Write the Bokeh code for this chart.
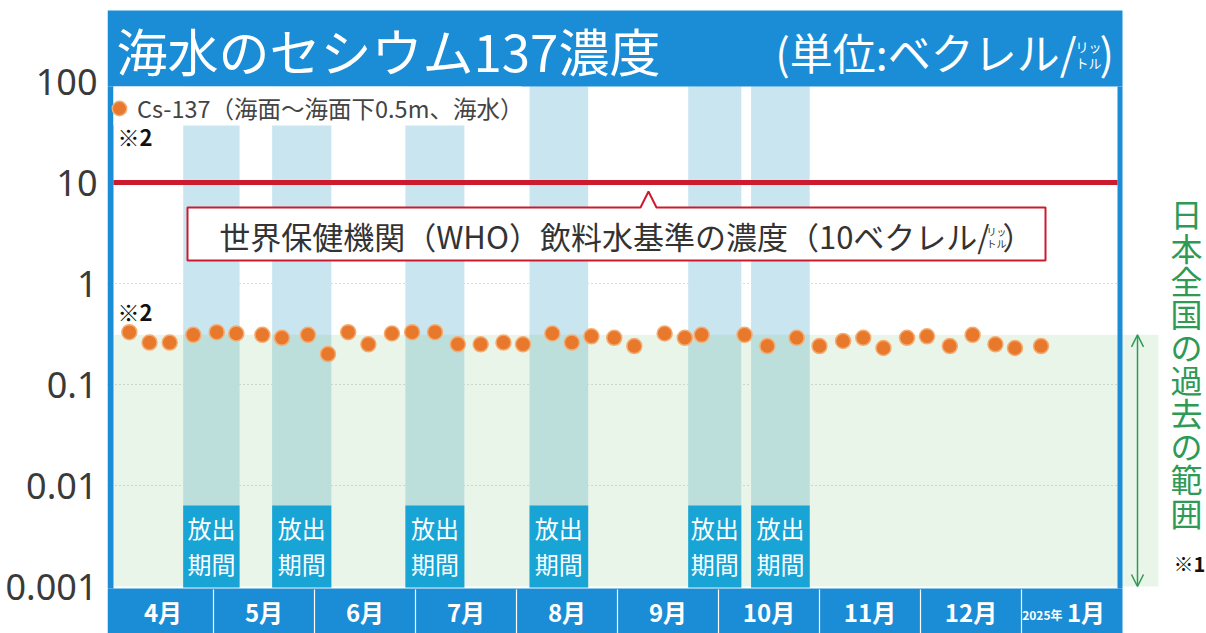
import calendar
from bokeh.plotting import figure
from bokeh.models import (Range1d, FixedTicker, CustomJSTickFormatter, Label, Legend,
                          LegendItem, ColumnDataSource, Arrow, OpenHead)
from bokeh.core.properties import value
from bokeh.embed import file_html
from bokeh.resources import INLINE

# ---------------- data ----------------
sample_dates = ["2024-04-06", "2024-04-12", "2024-04-18", "2024-04-25", "2024-05-02",
                "2024-05-08", "2024-05-16", "2024-05-22", "2024-05-30", "2024-06-05",
                "2024-06-11", "2024-06-17", "2024-06-24", "2024-06-30", "2024-07-07",
                "2024-07-14", "2024-07-21", "2024-07-28", "2024-08-03", "2024-08-12",
                "2024-08-18", "2024-08-24", "2024-08-31", "2024-09-06", "2024-09-15",
                "2024-09-21", "2024-09-26", "2024-10-09", "2024-10-16", "2024-10-25",
                "2024-11-01", "2024-11-08", "2024-11-14", "2024-11-20", "2024-11-27",
                "2024-12-03", "2024-12-10", "2024-12-17", "2024-12-24", "2024-12-30",
                "2025-01-07"]
cs137 = [0.33, 0.26, 0.26, 0.31, 0.33, 0.32, 0.31, 0.29, 0.31, 0.20,
         0.33, 0.25, 0.32, 0.33, 0.33, 0.25, 0.25, 0.26, 0.25, 0.32,
         0.26, 0.30, 0.29, 0.24, 0.32, 0.29, 0.31, 0.31, 0.24, 0.29,
         0.24, 0.27, 0.29, 0.23, 0.29, 0.30, 0.24, 0.31, 0.25, 0.23,
         0.24]
release_start = ["2024-04-22", "2024-05-19", "2024-06-28", "2024-08-05", "2024-09-22", "2024-10-11"]
release_end = ["2024-05-09", "2024-06-06", "2024-07-16", "2024-08-23", "2024-10-08", "2024-10-29"]
past_low, past_high = 0.001, 0.31
who_limit = 10
month_labels = ["4月", "5月", "6月", "7月", "8月", "9月", "10月", "11月", "12月", "1月"]
year_prefix = "2025年"
y_ticks = [0.001, 0.01, 0.1, 1, 10, 100]
y_tick_labels = ["0.001", "0.01", "0.1", "1", "10", "100"]
grid_ticks = [0.01, 0.1, 1]
release_label = ["放出", "期間"]
series_label = "Cs-137（海面～海面下0.5m、海水）"
title_text = "海水のセシウム137濃度"
unit_text = "(単位:ベクレル/"
who_text = "世界保健機関（WHO）飲料水基準の濃度（10ベクレル/"
range_text = "日本全国の過去の範囲"


def month_pos(s):
    y, m, d = map(int, s.split("-"))
    idx = (y - 2024) * 12 + (m - 4)
    nd = calendar.monthrange(y, m)[1]
    return idx + (d - 1) / nd


# ---------------- layout helpers (page px -> data) ----------------
X0, MONTH_W, Y_ONE, DEC_H = 112, 101, 283, 101


def dx(px):
    return (px - X0) / MONTH_W


def dy(py):
    return 10 ** ((Y_ONE - py) / DEC_H)


BLUE = "#1b8dd6"
CYAN = "#18a5d6"
COL = "#c9e5ef"
RED = "#cc1a2f"
GREEN = "#2e9a55"
JP = "Noto Sans CJK JP"

p = figure(width=1206, height=633, x_range=Range1d(dx(107), dx(1206)),
           y_range=Range1d(dy(633), dy(0)), y_axis_type="log", x_axis_location=None,
           toolbar_location=None, output_backend="svg", min_border_left=107,
           min_border_right=0, min_border_top=0, min_border_bottom=0, title=None,
           background_fill_color="white", border_fill_color="white")
p.outline_line_color = None
p.xgrid.visible = False
p.ygrid.ticker = FixedTicker(ticks=grid_ticks, minor_ticks=[])
p.ygrid.grid_line_color = "#b8b8b8"
p.ygrid.grid_line_dash = "1 3"
p.ygrid.grid_line_width = 1

ax = p.yaxis[0]
ax.ticker = FixedTicker(ticks=y_ticks, minor_ticks=[])
ax.formatter = CustomJSTickFormatter(args=dict(tvals=y_ticks, tlabels=y_tick_labels), code="""
let best = 0, bd = Infinity;
for (let i = 0; i < tvals.length; i++) {
  const d = Math.abs(Math.log10(tvals[i]) - Math.log10(tick));
  if (d < bd) { bd = d; best = i; }
}
return tlabels[best];
""")
ax.axis_line_color = None
ax.major_tick_line_color = None
ax.minor_tick_line_color = None
ax.major_tick_out = 0
ax.major_tick_in = 0
ax.minor_tick_out = 0
ax.minor_tick_in = 0
ax.major_label_standoff = 10
ax.major_label_text_font = "Noto Sans"
ax.major_label_text_font_size = "36px"
ax.major_label_text_color = "#3a3a3a"

# white area right of the frame (hides grid)
p.quad(left=[dx(1122)], right=[dx(1206)], bottom=[dy(633)], top=[dy(0)],
       fill_color="white", line_color=None)

rs = [month_pos(s) for s in release_start]
re_ = [month_pos(s) for s in release_end]

# release period columns
p.quad(left=rs, right=re_, bottom=dy(587), top=dy(86), fill_color=COL, line_color=None)

# past range band
p.quad(left=[dx(113)], right=[dx(1158)], bottom=[past_low], top=[past_high],
       fill_color="#6fbf73", fill_alpha=0.15, line_color=None)

# blue frame
p.quad(left=[dx(107), dx(107), dx(1117), dx(107)],
       right=[dx(1122), dx(113), dx(1122), dx(1122)],
       top=[dy(10), dy(86), dy(86), dy(588)],
       bottom=[dy(86), dy(588), dy(588), dy(633)],
       fill_color=BLUE, line_color=None)

# release boxes
p.quad(left=rs, right=re_, bottom=dy(587), top=dy(505), fill_color=CYAN, line_color=None)
centers = [(a + b) / 2 for a, b in zip(rs, re_)]
p.text(x=centers, y=dy(527), text=[release_label[0]] * len(centers), text_font=value(JP),
       text_font_size="24px", text_color="white", text_align="center", text_baseline="middle")
p.text(x=centers, y=dy(563), text=[release_label[1]] * len(centers), text_font=value(JP),
       text_font_size="24px", text_color="white", text_align="center", text_baseline="middle")

# legend cover
p.quad(left=[dx(113)], right=[dx(521)], top=[dy(86)], bottom=[dy(125)],
       fill_color="white", line_color=None)

# WHO line
p.segment(x0=[dx(113)], x1=[dx(1117)], y0=[who_limit], y1=[who_limit],
          line_color=RED, line_width=5)

# callout box
cx = [dx(v) for v in (187, 640, 648, 656, 1045, 1045, 187)]
cy = [dy(v) for v in (207, 207, 191, 207, 207, 260, 260)]
p.patch(cx, cy, fill_color="white", line_color=RED, line_width=2)

# points
src = ColumnDataSource(dict(x=[month_pos(d) for d in sample_dates], y=cs137))
pts = p.scatter("x", "y", source=src, size=15, fill_color="#e8782b",
                line_color="#f3ad74", line_width=1.5)

legend = Legend(items=[LegendItem(label=series_label, renderers=[pts])],
                location=(-6, 507), background_fill_alpha=0, border_line_color=None,
                glyph_width=36, glyph_height=36, padding=1, margin=0, label_standoff=-7,
                label_text_font=JP, label_text_font_size="23.5px", label_text_color="#444444")
p.add_layout(legend)

# x band: separators and month labels
p.segment(x0=list(range(1, 10)), x1=list(range(1, 10)), y0=dy(589), y1=dy(633),
          line_color="white", line_width=1.2)
p.text(x=[i + 0.5 for i in range(len(month_labels))], y=dy(611), text=month_labels,
       x_offset=[0] * (len(month_labels) - 1) + [14], text_font=value(JP),
       text_font_style="bold", text_font_size="24px", text_color="white",
       text_align="center", text_baseline="middle")
p.add_layout(Label(x=dx(1062), y=dy(614), text=year_prefix, text_font=JP,
                   text_font_style="bold", text_font_size="12px", text_color="white",
                   text_align="right", text_baseline="middle"))

# title
p.add_layout(Label(x=dx(116), y=dy(49), text=title_text, text_font=JP,
                   text_font_size="51px", text_color="white", text_align="left",
                   text_baseline="middle"))
p.add_layout(Label(x=dx(1076), y=dy(50), text=unit_text, text_font=JP,
                   text_font_size="43px", text_color="white", text_align="right",
                   text_baseline="middle"))
p.add_layout(Label(x=dx(1088), y=dy(54), text="リッ\nトル", text_font=JP,
                   text_font_size="13px", text_line_height=0.8, text_color="white",
                   text_align="center", text_baseline="middle"))
p.add_layout(Label(x=dx(1099), y=dy(50), text=")", text_font=JP,
                   text_font_size="43px", text_color="white", text_align="left",
                   text_baseline="middle"))

# callout text
p.add_layout(Label(x=dx(989), y=dy(235), text=who_text, text_font=JP,
                   text_font_size="31px", text_color="#333333", text_align="right",
                   text_baseline="middle"))
p.add_layout(Label(x=dx(996), y=dy(237), text="リッ\nトル", text_font=JP,
                   text_font_size="10px", text_line_height=0.8, text_color="#333333",
                   text_align="center", text_baseline="middle"))
p.add_layout(Label(x=dx(1002), y=dy(235), text="）", text_font=JP,
                   text_font_size="31px", text_color="#333333", text_align="left",
                   text_baseline="middle"))

# notes
for yy in (135, 310):
    p.add_layout(Label(x=dx(117), y=dy(yy), text="※2", text_font=JP,
                       text_font_style="bold", text_font_size="22px", text_color="#111111",
                       text_align="left", text_baseline="middle"))
p.add_layout(Label(x=dx(1173), y=dy(563), text="※1", text_font=JP,
                   text_font_style="bold", text_font_size="20px", text_color="#111111",
                   text_align="left", text_baseline="middle"))

# past range arrow and label
p.add_layout(Arrow(x_start=dx(1137), y_start=past_low, x_end=dx(1137), y_end=past_high,
                   line_color=GREEN, line_width=1.5,
                   start=OpenHead(size=12, line_color=GREEN, line_width=1.5),
                   end=OpenHead(size=12, line_color=GREEN, line_width=1.5)))
p.add_layout(Label(x=dx(1186), y=dy(362), text="\n".join(range_text), text_font=JP,
                   text_font_size="32px", text_line_height=0.72, text_color=GREEN,
                   text_align="center", text_baseline="middle"))

open("out.html", "w").write(file_html(p, INLINE))
